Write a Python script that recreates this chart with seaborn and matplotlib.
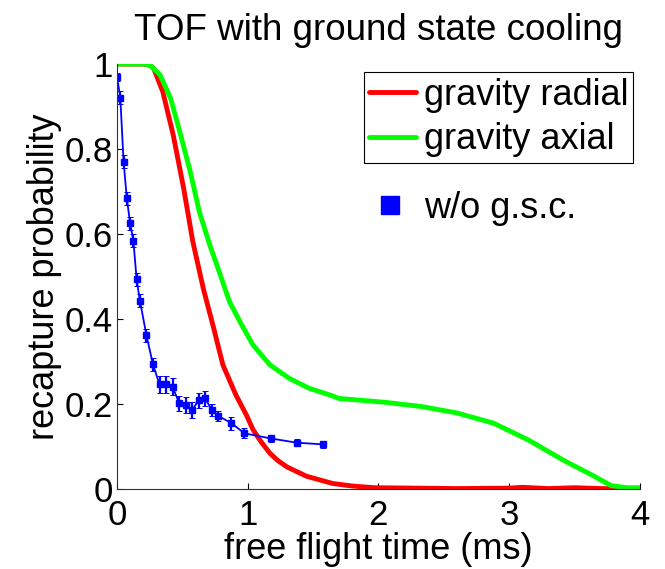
import matplotlib
matplotlib.use("Agg")
import matplotlib.pyplot as plt
from matplotlib.lines import Line2D
import pandas as pd
import seaborn as sns

# gravity radial (red)
radial_t = [0.0, 0.10, 0.20, 0.25, 0.28, 0.35, 0.43, 0.51, 0.58, 0.66, 0.74, 0.81, 0.91, 0.99,
            1.04, 1.10, 1.17, 1.23, 1.30, 1.45, 1.65, 1.80, 1.97, 2.3, 2.6, 3.0, 3.1, 3.3, 3.5, 3.7, 4.0]
radial_p = [1.0, 1.0, 1.0, 0.997, 0.990, 0.935, 0.833, 0.707, 0.582, 0.472, 0.378, 0.292, 0.221, 0.174,
            0.140, 0.112, 0.084, 0.067, 0.052, 0.030, 0.013, 0.007, 0.003, 0.002, 0.001, 0.002, 0.004,
            0.001, 0.003, 0.001, 0.0]

# gravity axial (green)
axial_t = [0.0, 0.10, 0.20, 0.25, 0.33, 0.41, 0.48, 0.56, 0.63, 0.71, 0.79, 0.86, 0.94, 1.04,
           1.17, 1.32, 1.47, 1.63, 1.70, 2.05, 2.33, 2.60, 2.88, 3.15, 3.42, 3.64, 3.78, 3.9, 4.0]
axial_p = [1.0, 1.0, 1.0, 0.998, 0.974, 0.919, 0.841, 0.747, 0.652, 0.574, 0.504, 0.441, 0.394, 0.339,
           0.292, 0.260, 0.237, 0.221, 0.213, 0.204, 0.194, 0.179, 0.155, 0.115, 0.067, 0.032, 0.008, 0.003, 0.003]

# w/o ground state cooling (blue, measured)
gsc_t = [0.0, 0.025, 0.05, 0.075, 0.10, 0.125, 0.15, 0.175, 0.225, 0.275, 0.325, 0.375, 0.425,
         0.475, 0.525, 0.575, 0.625, 0.675, 0.725, 0.775, 0.875, 0.975, 1.175, 1.375, 1.575]
gsc_p = [0.970, 0.921, 0.770, 0.684, 0.625, 0.584, 0.493, 0.443, 0.362, 0.293, 0.246, 0.246, 0.241,
         0.202, 0.198, 0.186, 0.209, 0.213, 0.186, 0.172, 0.155, 0.131, 0.119, 0.109, 0.105]
gsc_err = [0.010, 0.015, 0.015, 0.015, 0.015, 0.015, 0.015, 0.015, 0.015, 0.015, 0.020, 0.020, 0.020,
           0.018, 0.018, 0.018, 0.018, 0.018, 0.015, 0.012, 0.015, 0.012, 0.008, 0.008, 0.008]

curves = pd.concat([
    pd.DataFrame({"t": radial_t, "p": radial_p, "model": "gravity radial"}),
    pd.DataFrame({"t": axial_t, "p": axial_p, "model": "gravity axial"}),
], ignore_index=True)

sns.set_theme(style="ticks")
plt.rcParams["font.family"] = ["Liberation Sans", "DejaVu Sans"]
plt.rcParams["text.color"] = "black"
plt.rcParams["axes.labelcolor"] = "black"
plt.rcParams["xtick.color"] = "black"
plt.rcParams["ytick.color"] = "black"

fig = plt.figure(figsize=(6.65, 5.69), dpi=100)
ax = fig.add_axes([0.176, 0.1406, 0.786, 0.7469])

sns.lineplot(data=curves, x="t", y="p", hue="model",
             palette={"gravity radial": "#ff0000", "gravity axial": "#00ff00"},
             linewidth=3.5, ax=ax, legend=False)
ax.errorbar(gsc_t, gsc_p, yerr=gsc_err, color="#0000ff", marker="s", markersize=4.5,
            linewidth=1.3, capsize=2, elinewidth=1.6, capthick=0.7)

ax.set_xlim(0, 4)
ax.set_ylim(0, 1)
ax.set_xticks([0, 1, 2, 3, 4])
ax.set_yticks([0, 0.2, 0.4, 0.6, 0.8, 1])
ax.set_yticklabels(["0", "0.2", "0.4", "0.6", "0.8", "1"])
ax.tick_params(direction="in", labelsize=25, length=4, width=0.8)
ax.tick_params(axis="x", pad=7)
ax.tick_params(axis="y", pad=3)
for s in ["top", "right"]:
    ax.spines[s].set_visible(False)
for s in ["left", "bottom"]:
    ax.spines[s].set_linewidth(0.8)
    ax.spines[s].set_color("#333333")
ax.set_title("TOF with ground state cooling", fontsize=26.5, pad=17)
ax.set_xlabel("free flight time (ms)", fontsize=26, labelpad=0)
ax.set_ylabel("recapture probability", fontsize=26, labelpad=2)

leg1 = ax.legend(handles=[Line2D([], [], color="#ff0000", lw=3.5),
                          Line2D([], [], color="#00ff00", lw=3.5)],
                 labels=["gravity radial", "gravity axial"],
                 loc="upper right", bbox_to_anchor=(0.988, 0.981), fontsize=26,
                 frameon=True, fancybox=False, edgecolor="black", framealpha=1,
                 handlelength=1.3, handletextpad=0.2, borderpad=0.15, labelspacing=0.27,
                 borderaxespad=0)
leg1.get_frame().set_linewidth(0.8)
ax.add_artist(leg1)
ax.legend(handles=[Line2D([], [], color="#0000ff", marker="s", markersize=13, lw=0)],
          labels=["w/o g.s.c."], loc="upper left", bbox_to_anchor=(0.45, 0.735),
          fontsize=26, frameon=False, handlelength=1.3, handletextpad=0.3, borderaxespad=0)

fig.savefig("out.png", dpi=100)
